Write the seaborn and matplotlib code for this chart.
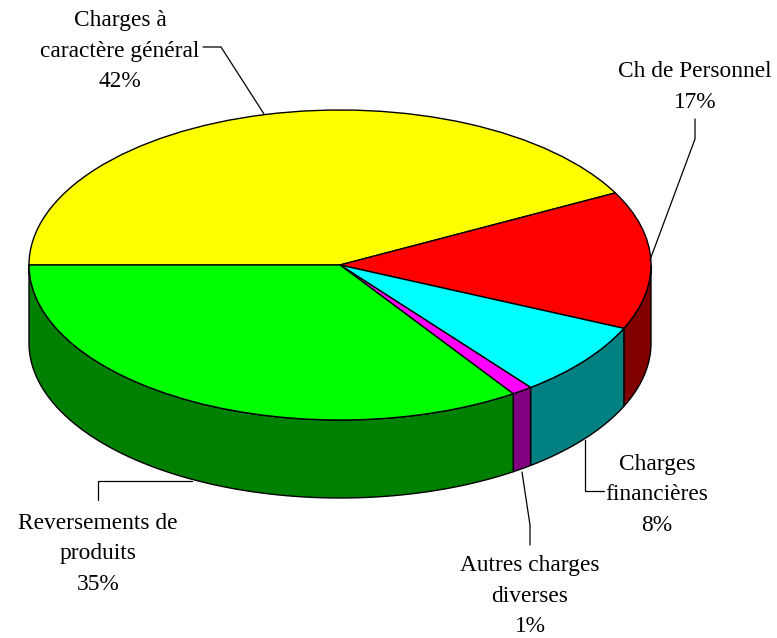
import matplotlib
matplotlib.use("Agg")
import matplotlib.pyplot as plt
import numpy as np
import seaborn as sns

# slice shares as drawn in the picture (the printed labels differ a bit)
categories = ["Charges à\ncaractère général", "Ch de Personnel", "Charges\nfinancières",
              "Autres charges\ndiverses", "Reversements de\nproduits"]
shares = [42.3, 14.4, 7.8, 1.1, 34.4]
printed = ["42%", "17%", "8%", "1%", "35%"]

top_colors = ["#ffff00", "#ff0000", "#00ffff", "#ff00ff", "#00ff00"]
side_colors = ["#808000", "#800000", "#008080", "#800080", "#008000"]

W, H = 777, 638
CX, CY, RX, RY, DEPTH = 340, 265, 311, 155, 78

sns.set_theme(style="white")
plt.rcParams["font.family"] = ["Liberation Serif", "DejaVu Serif"]

fig = plt.figure(figsize=(W / 100, H / 100), dpi=100, facecolor="white")
ax = fig.add_axes([0, 0, 1, 1])

wedges, _ = ax.pie(
    shares,
    colors=top_colors,
    startangle=180,
    counterclock=False,
    radius=1,
    wedgeprops={"edgecolor": "black", "linewidth": 1.0, "zorder": 3},
)
ax.set_aspect("auto")
ax.set_xlim(-CX / RX, (W - CX) / RX)
ax.set_ylim((CY - H) / RY, CY / RY)
ax.axis("off")

# side wall, only the front half of the rim shows
depth = DEPTH / RY
fracs = np.array(shares) / sum(shares)
ends = 180 - 360 * np.cumsum(fracs)
starts = np.r_[180, ends[:-1]]
for a0, a1, col in zip(starts, ends, side_colors):
    hi, lo = min(a0, 0), max(a1, -180)
    if hi <= lo:
        continue
    t = np.radians(np.linspace(lo, hi, 80))
    x = np.cos(t)
    y = np.sin(t)
    ax.fill(np.r_[x, x[::-1]], np.r_[y, y[::-1] - depth], facecolor=col,
            edgecolor="black", linewidth=1.0, zorder=2)

# overlay in pixels for leaders and labels
ov = fig.add_axes([0, 0, 1, 1], facecolor="none")
ov.set_xlim(0, W)
ov.set_ylim(H, 0)
ov.axis("off")

leaders = [
    ([203, 221, 264], [47, 47, 114]),
    ([695, 695, 650], [119, 139, 260]),
    ([585, 585, 604], [440, 491, 491]),
    ([522, 530, 530], [472, 525, 545]),
    ([98, 98, 192], [500, 481, 481]),
]
for lx, ly in leaders:
    ov.plot(lx, ly, color="black", lw=0.9, solid_joinstyle="miter")

label_pos = [(120, 51), (695, 87), (657, 495), (530, 596), (98, 554)]
for (px, py), name, pct in zip(label_pos, categories, printed):
    ov.text(px, py, f"{name}\n{pct}", ha="center", va="center", fontsize=16.8,
            color="black", linespacing=1.57)

fig.savefig("out.png", dpi=100)
plt.close(fig)
